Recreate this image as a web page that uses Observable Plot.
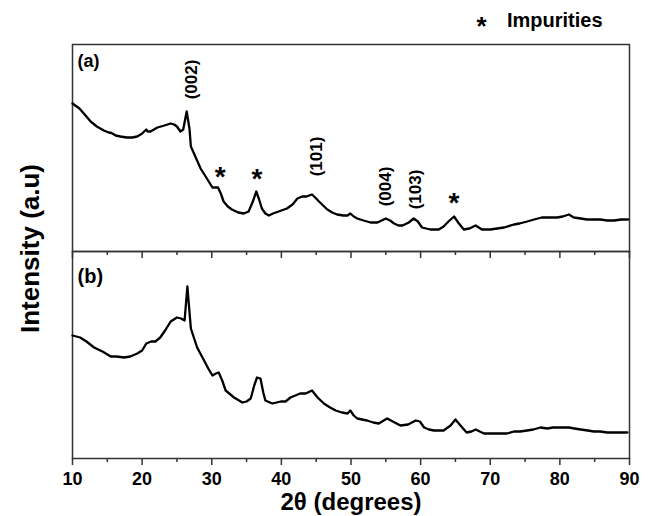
<!DOCTYPE html>
<html><head><meta charset="utf-8">
<script src="https://cdn.jsdelivr.net/npm/d3@7"></script>
<script src="https://cdn.jsdelivr.net/npm/@observablehq/plot@0.6"></script>
<style>
body{margin:0;background:#fff}
svg{font-family:"Liberation Sans",Arial,sans-serif}
</style>
</head><body><div id="chart"></div><script>
// 2θ (degrees) and intensity (a.u.) for sample (a)
const twoThetaA = [10.0,11.0,12.0,12.6,13.5,14.5,15.2,15.6,16.2,16.9,17.8,18.6,19.3,20.0,20.6,20.8,21.2,22.2,23.2,24.1,24.6,25.0,25.5,25.9,26.4,26.8,27.0,27.7,28.4,29.3,30.1,30.9,31.3,31.7,32.3,32.9,33.8,34.6,35.3,35.9,36.4,36.8,37.2,37.7,38.2,38.8,39.2,40.0,40.8,41.6,42.3,43.0,43.6,44.4,45.0,45.4,46.0,46.6,47.3,48.0,48.9,49.5,49.9,50.4,50.9,51.8,52.8,53.8,54.4,55.0,55.6,56.2,56.8,57.4,58.3,59.0,59.6,60.2,60.8,61.4,62.6,63.3,64.0,64.8,65.5,66.2,67.0,67.9,68.8,70.0,71.0,72.0,73.4,74.2,75.3,76.3,77.4,78.4,79.6,80.4,81.3,82.0,83.0,83.9,84.8,85.8,86.8,87.8,88.8,89.8];
const intensityA = [148,143,135,130,125,121,119,118.5,116,115,114,114,115,118,122,120,120,124,126,128,127,125,120,122,140,123,105,94,83,73,64,64,58,50,45,42,39,38,40,50,60,52,43,38,36,38,39,41,43,47,53,55,55,57,53,50,46,42,39,37,36,36,38,35,33,31,29,29,31,33,31,28,26,26,29,33,30,24,23,22,22,25,30,35,28,22,23,26,22,22,23,24,27,28,30,32,34,34,34,35,37,34,33,32,32,32,31,31,32,32];

// 2θ (degrees) and intensity (a.u.) for sample (b)
const twoThetaB = [10.0,11.1,12.0,13.1,14.3,15.5,16.3,17.4,18.3,19.3,20.0,20.6,21.3,21.9,22.6,23.3,24.1,25.0,25.6,26.1,26.5,27.0,27.9,28.9,29.5,30.1,30.6,31.0,31.5,32.0,33.2,34.4,35.0,35.6,36.1,36.5,37.0,37.4,37.7,38.7,39.9,40.6,41.3,42.0,42.7,43.5,44.4,45.2,46.1,47.0,47.8,48.7,49.5,49.9,50.4,50.9,52.3,53.2,54.0,54.7,55.2,56.0,57.1,58.2,59.3,59.9,60.5,61.2,61.9,63.3,64.3,65.0,65.6,66.6,67.3,67.9,69.1,70.3,71.5,72.4,73.4,74.3,75.3,76.2,77.2,78.2,79.0,80.1,81.3,82.1,83.0,84.0,84.9,85.8,86.8,87.8,88.8,89.7];
const intensityB = [123,121,117,111,107,102,102,101,102,105,108,115,117,117,121,128,137,141,140,138,172,130,111,98,90,83,85,86,78,68,61,56,57,60,73,81,80,66,58,55,57,57,61,63,65,65,68,61,55,51,48,46,45,48,43,40,38,36,35,38,40,37,33,34,38,37,31,29,28,28,33,39,34,26,27,29,25,25,25,25,27,27,28,29,31,30,31,31,31,30,29,28,27,27,26,26,26,26];

// Reflection labels (panel a)
const peakLabels = ["(002)","(101)","(004)","(103)"];
const peakLabelX = [27.1,45.1,55.0,59.3];
const peakLabelY = [172,95,65,62];
// Impurity markers (panel a)
const impurityX = [31.2,36.5,64.8];
const impurityY = [81,79,55];

const majorTicks = [10,20,30,40,50,60,70,80,90];
const minorTicks = [15,25,35,45,55,65,75,85];
const panels = ["a","b"];

const rows = [
  ...twoThetaA.map((x,i)=>({panel:"a", x, y:intensityA[i]})),
  ...twoThetaB.map((x,i)=>({panel:"b", x, y:intensityB[i]}))
];

const W=649, H=516, mT=44, mB=58, mL=72, mR=20;
const fh = (H-mT-mB)/2;
const frameColor = "#333";

const chart = Plot.plot({
  width: W, height: H,
  marginTop: mT, marginBottom: mB, marginLeft: mL, marginRight: mR,
  x: {domain:[10,90]},
  y: {domain:[0,fh], axis:null},
  fy: {domain: panels, padding:0, axis:null},
  marks: [
    Plot.frame({stroke: frameColor, strokeWidth:1.5}),
    Plot.line(rows, {x:"x", y:"y", fy:"panel", stroke:"black", strokeWidth:2.3, strokeLinejoin:"round", curve:"linear"}),
    Plot.axisX({ticks: majorTicks, tickSize:7, tickPadding:7, tickFormat: d=>String(d), fontSize:18, fontWeight:"bold", stroke: frameColor, strokeWidth:1.5, fill:"black", label:null}),
    Plot.axisX({ticks: minorTicks, tickSize:4, tickFormat: ()=>"", stroke: frameColor, strokeWidth:1.5, label:null}),
    Plot.ruleX(majorTicks, {x:d=>d, fy:()=>"b", insetBottom: fh-7, stroke: frameColor, strokeWidth:1.5}),
    Plot.ruleX(minorTicks, {x:d=>d, fy:()=>"b", insetBottom: fh-4, stroke: frameColor, strokeWidth:1.5}),
    Plot.text(peakLabels, {x:(d,i)=>peakLabelX[i], y:(d,i)=>peakLabelY[i], text:d=>d, fy:()=>"a", rotate:-90, fontSize:17, fontWeight:"bold", fill:"black"}),
    Plot.text(impurityX, {x:d=>d, y:(d,i)=>impurityY[i], text:()=>"*", fy:()=>"a", fontSize:28, fontWeight:"bold", dy:7, fill:"black"}),
    Plot.text(["(a)"], {fy:()=>"a", frameAnchor:"top-left", dx:5, dy:10, lineAnchor:"top", textAnchor:"start", fontSize:18, fontWeight:"bold", fill:"black"}),
    Plot.text(["(b)"], {fy:()=>"b", frameAnchor:"top-left", dx:5, dy:17, lineAnchor:"top", textAnchor:"start", fontSize:20, fontWeight:"bold", fill:"black"}),
    Plot.text(["Impurities"], {fy:()=>"a", frameAnchor:"top-right", dx:-27, dy:-24, lineAnchor:"middle", textAnchor:"end", fontSize:20, fontWeight:"bold", fill:"black"}),
    Plot.text(["*"], {fy:()=>"a", frameAnchor:"top-right", dx:-148, dy:-18, lineAnchor:"middle", textAnchor:"middle", fontSize:26, fontWeight:"bold", fill:"black"}),
    Plot.text(["Intensity (a.u)"], {fy:()=>"a", frameAnchor:"bottom-left", dx:-42, dy:-3, rotate:-90, lineAnchor:"middle", textAnchor:"middle", fontSize:26, fontWeight:"bold", fill:"black"}),
    Plot.text(["2θ (degrees)"], {fy:()=>"b", frameAnchor:"bottom", dy:44, lineAnchor:"middle", textAnchor:"middle", fontSize:24, fontWeight:"bold", fill:"black"})
  ]
});
document.getElementById("chart").appendChild(chart);
</script></body></html>
